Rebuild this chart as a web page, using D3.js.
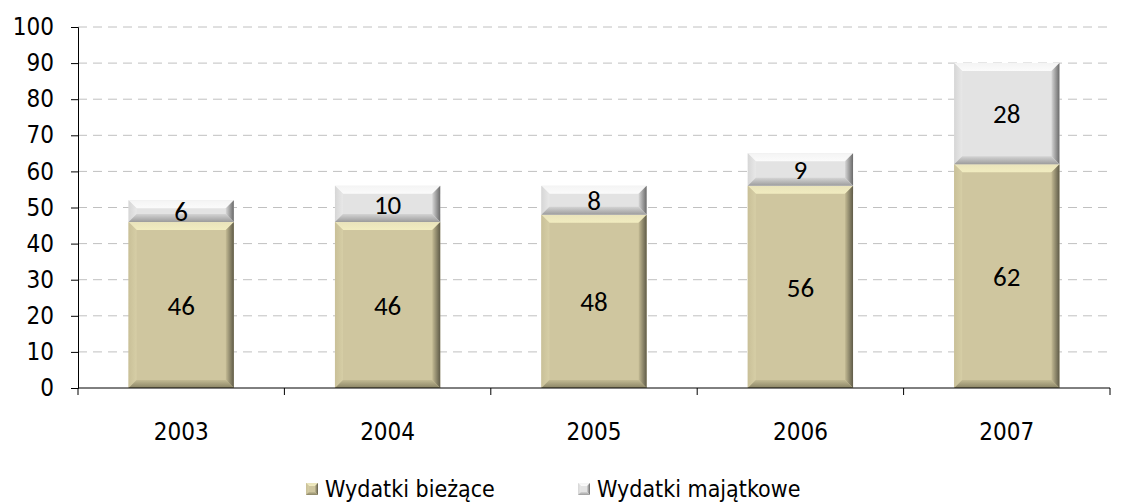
<!DOCTYPE html>
<html>
<head>
<meta charset="utf-8">
<script src="https://cdn.jsdelivr.net/npm/d3@7"></script>
<style>
  body { margin: 0; background: #fff; }
  text { font-family: "DejaVu Sans Condensed", "DejaVu Sans", sans-serif; }
</style>
</head>
<body>
<script>
// wydatki per year, two stacked series
const years = ["2003", "2004", "2005", "2006", "2007"];
const biezace = [46, 46, 48, 56, 62];
const majatkowe = [6, 10, 8, 9, 28];
const yTicks = [0, 10, 20, 30, 40, 50, 60, 70, 80, 90, 100];
const seriesNames = ["Wydatki bieżące", "Wydatki majątkowe"];

const width = 1129, height = 502;
const margin = { top: 27, right: 19, bottom: 114, left: 78 };

const svg = d3.select("body").append("svg")
  .attr("width", width)
  .attr("height", height);

const x = d3.scaleBand()
  .domain(years)
  .range([margin.left, width - margin.right])
  .paddingInner(0.49)
  .paddingOuter(0.245);

const y = d3.scaleLinear()
  .domain([0, 100])
  .range([height - margin.bottom, margin.top]);

// grid
svg.append("g").selectAll("line")
  .data(yTicks.slice(1))
  .enter().append("line")
  .attr("x1", margin.left)
  .attr("x2", width - margin.right)
  .attr("y1", d => y(d))
  .attr("y2", d => y(d))
  .style("stroke", "#c0c0c0")
  .style("stroke-width", 1)
  .style("stroke-dasharray", "9,6");

// bevel colours: [outer, inner] per side
const palettes = [
  { name: "tan", face: "#cfc69f",
    top: ["#e9e3bb", "#f1ecc0"], left: ["#c9c098", "#d6cea6"],
    right: ["#5f5b48", "#c4bb94"], bottom: ["#8a8465", "#c2ba93"] },
  { name: "grey", face: "#e3e3e3",
    top: ["#f4f4f4", "#fbfbfb"], left: ["#d6d6d6", "#e8e8e8"],
    right: ["#6a6a6a", "#d6d6d6"], bottom: ["#9c9c9c", "#d4d4d4"] }
];

const defs = svg.append("defs");
const dirs = { top: [0, 0, 0, 1], bottom: [0, 1, 0, 0], left: [0, 0, 1, 0], right: [1, 0, 0, 0] };
palettes.forEach(p => {
  Object.keys(dirs).forEach(side => {
    const [x1, y1, x2, y2] = dirs[side];
    const g = defs.append("linearGradient")
      .attr("id", `g-${p.name}-${side}`)
      .attr("x1", x1).attr("y1", y1).attr("x2", x2).attr("y2", y2);
    g.append("stop").attr("offset", 0).attr("stop-color", p[side][0]);
    g.append("stop").attr("offset", 1).attr("stop-color", p[side][1]);
  });
});

function bevelBar(g, x0, y0, w, h, pal, size) {
  const b = Math.min(size, h / 2.6, w / 4);
  const x1 = x0 + w, y1 = y0 + h;
  g.append("rect").attr("x", x0).attr("y", y0).attr("width", w).attr("height", h).style("fill", pal.face);
  const poly = (pts, side) => g.append("polygon")
    .attr("points", pts.map(p => p.join(",")).join(" "))
    .style("fill", `url(#g-${pal.name}-${side})`);
  poly([[x0, y0], [x1, y0], [x1 - b, y0 + b], [x0 + b, y0 + b]], "top");
  poly([[x0, y0], [x0 + b, y0 + b], [x0 + b, y1 - b], [x0, y1]], "left");
  poly([[x1, y0], [x1, y1], [x1 - b, y1 - b], [x1 - b, y0 + b]], "right");
  poly([[x0, y1], [x0 + b, y1 - b], [x1 - b, y1 - b], [x1, y1]], "bottom");
}

const barsG = svg.append("g");
years.forEach((yr, i) => {
  const stack = [biezace[i], majatkowe[i]];
  let base = 0;
  stack.forEach((v, s) => {
    const yTop = y(base + v), yBot = y(base);
    bevelBar(barsG, x(yr), yTop, x.bandwidth(), yBot - yTop, palettes[s], 8);
    barsG.append("text")
      .attr("x", x(yr) + x.bandwidth() / 2)
      .attr("y", (yTop + yBot) / 2)
      .attr("dy", "0.36em")
      .attr("text-anchor", "middle")
      .style("font-family", "Carlito, 'Liberation Sans', sans-serif")
      .style("font-size", "27px")
      .text(v);
    base += v;
  });
});

// y axis
const yAxis = svg.append("g")
  .attr("transform", `translate(${margin.left},0)`)
  .call(d3.axisLeft(y).tickValues(yTicks).tickSize(7).tickPadding(17));
yAxis.selectAll("text")
  .style("font-size", "24px")
  .style("font-family", "'DejaVu Sans Condensed', 'DejaVu Sans', sans-serif")
  .attr("fill", "#000");
yAxis.selectAll("line, path").attr("stroke", "#000");

// x axis with ticks between categories
const step = x.step();
const xAxis = svg.append("g")
  .attr("transform", `translate(0,${y(0)})`);
xAxis.append("line")
  .attr("x1", margin.left).attr("x2", width - margin.right)
  .attr("stroke", "#000");
xAxis.selectAll(".sep")
  .data(d3.range(years.length + 1))
  .enter().append("line")
  .attr("x1", i => margin.left + i * step)
  .attr("x2", i => margin.left + i * step)
  .attr("y1", 0).attr("y2", 7)
  .attr("stroke", "#000");
xAxis.selectAll(".lbl")
  .data(years)
  .enter().append("text")
  .attr("x", d => x(d) + x.bandwidth() / 2)
  .attr("y", 52)
  .attr("text-anchor", "middle")
  .style("font-size", "24px")
  .text(d => d);

// legend
const legendX = [306, 578];
const legend = svg.append("g");
seriesNames.forEach((name, i) => {
  bevelBar(legend, legendX[i], 483, 12, 12, palettes[i], 3);
  legend.append("text")
    .attr("x", legendX[i] + 19)
    .attr("y", 497)
    .style("font-size", "23px")
    .text(name);
});
</script>
</body>
</html>
